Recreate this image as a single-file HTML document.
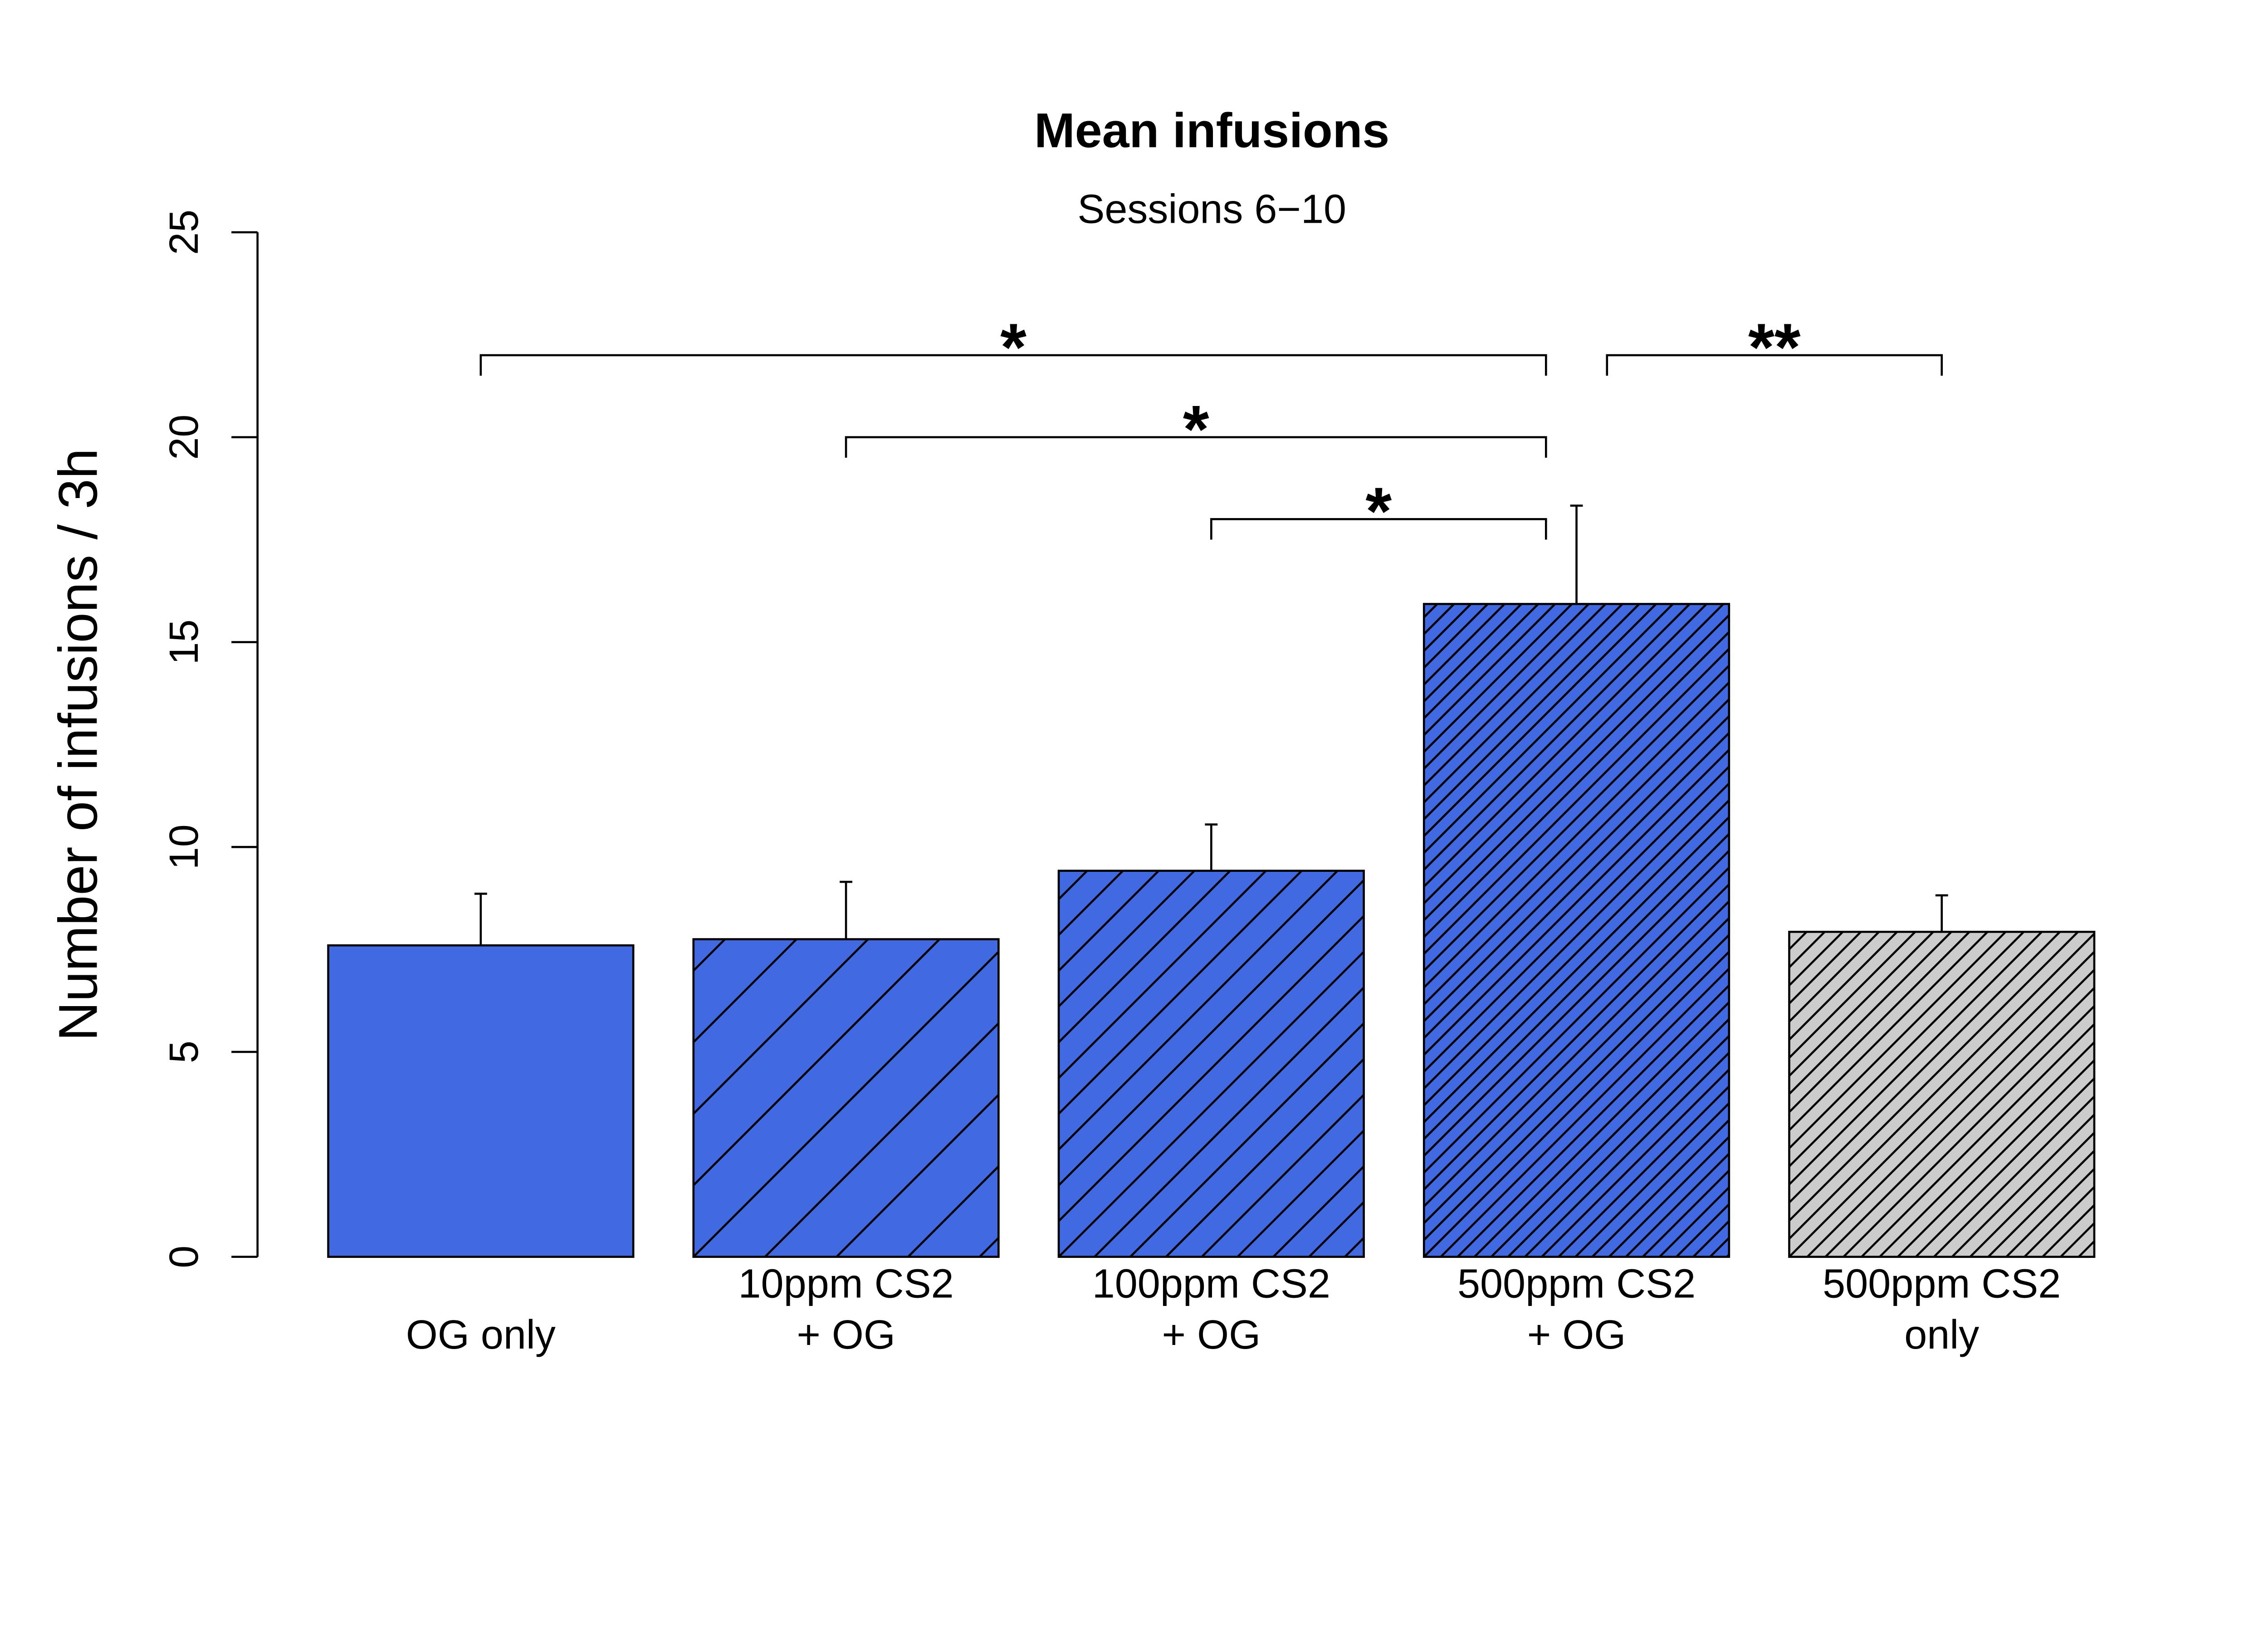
<!DOCTYPE html>
<html><head><meta charset="utf-8"><style>
html,body{margin:0;padding:0;background:#fff}
svg{display:block}
text{font-family:"Liberation Sans",sans-serif;fill:#000}
</style></head><body>
<svg id="chart" width="5400" height="3600" viewBox="0 0 5821 3881" preserveAspectRatio="none" xmlns="http://www.w3.org/2000/svg">
<defs id="defs"></defs>
<text x="2880" y="350" font-size="116" font-weight="bold" text-anchor="middle">Mean infusions</text>
<text x="2880" y="530" font-size="97" text-anchor="middle">Sessions 6−10</text>
<text transform="translate(230,1770) rotate(-90)" font-size="130" text-anchor="middle">Number of infusions / 3h</text>
<g id="plot"></g>
</svg>
<script>
const categories1 = ["", "10ppm CS2", "100ppm CS2", "500ppm CS2", "500ppm CS2"];
const categories2 = ["OG only", "+ OG", "+ OG", "+ OG", "only"];
const means = [7.6, 7.75, 9.42, 15.93, 7.93];
const errors = [1.26, 1.4, 1.13, 2.4, 0.89];
const yTicks = [0, 5, 10, 15, 20, 25];
const sigFrom = [0, 1, 2, 3];
const sigTo = [3, 3, 3, 4];
const sigLevel = [22, 20, 18, 22];
const sigLabel = ["*", "*", "*", "**"];

const NS = "http://www.w3.org/2000/svg";
const svg = document.getElementById("plot");
const defs = document.getElementById("defs");
const y0px = 2987, pxPerUnit = 97.4;
function yScale(v){ return y0px - v * pxPerUnit; }
const barLeft0 = 780, pitch = 868, barW = 725;
function xLeft(i){ return barLeft0 + i * pitch; }
function xCenter(i){ return xLeft(i) + barW / 2; }
function el(tag, attrs, parent){
  const e = document.createElementNS(NS, tag);
  for (const k in attrs) e.setAttribute(k, attrs[k]);
  (parent || svg).appendChild(e);
  return e;
}
const fills = ["#4169E1", "#4169E1", "#4169E1", "#4169E1", "#CCCCCC"];
const hatch = [0, 170, 85, 40, 43];

hatch.forEach((s, i) => {
  if (!s) return;
  const p = el("pattern", {id: "hatch" + i, patternUnits: "userSpaceOnUse", width: s, height: s, x: xLeft(i), y: y0px}, defs);
  el("rect", {x: 0, y: 0, width: s, height: s, fill: fills[i]}, p);
  el("path", {d: `M-2,2 L2,-2 M0,${s} L${s},0 M${s-2},${s+2} L${s+2},${s-2}`, stroke: "#000", "stroke-width": 5}, p);
});

const axis = el("line", {x1: 612, x2: 612, y1: yScale(25), y2: yScale(0), stroke: "#000", "stroke-width": 5});


yTicks.forEach(t => {
  const tk = el("line", {x1: 550, x2: 612, y1: yScale(t), y2: yScale(t), stroke: "#000", "stroke-width": 5});
  
  
  const lb = el("text", {transform: `translate(470,${yScale(t)}) rotate(-90)`, "font-size": 97, "text-anchor": "middle"});
  lb.textContent = t;
  
  
});

means.forEach((m, i) => {
  const top = yScale(m);
  const r = el("rect", {x: xLeft(i), y: top, width: barW, height: y0px - top, fill: hatch[i] ? `url(#hatch${i})` : fills[i], stroke: "#000", "stroke-width": 5});
  
  
  const et = yScale(m + errors[i]);
  const eb = el("path", {d: `M${xCenter(i)},${top} L${xCenter(i)},${et} M${xCenter(i)-15},${et} L${xCenter(i)+15},${et}`, stroke: "#000", "stroke-width": 5, fill: "none"});
  
  
  const l1 = el("text", {x: xCenter(i), y: 3084, "font-size": 97, "text-anchor": "middle"});
  l1.textContent = categories1[i];
  
  
  const l2 = el("text", {x: xCenter(i), y: 3205, "font-size": 97, "text-anchor": "middle"});
  l2.textContent = categories2[i];
  
  
});

sigFrom.forEach((a, k) => {
  const b = sigTo[k];
  const xa = a === 3 ? xCenter(a) + 0.1 * barW : xCenter(a);
  const xb = b === 3 ? xCenter(b) - 0.1 * barW : xCenter(b);
  const yl = yScale(sigLevel[k]), yd = yScale(sigLevel[k] - 0.5);
  const br = el("path", {d: `M${xa},${yd} L${xa},${yl} L${xb},${yl} L${xb},${yd}`, stroke: "#000", "stroke-width": 5, fill: "none"});
  
  
  const st = el("text", {x: (xa + xb) / 2, y: yl + 36, "font-size": 160, "font-weight": "bold", "text-anchor": "middle"});
  st.textContent = sigLabel[k];
  
  
});
</script>
</body></html>
